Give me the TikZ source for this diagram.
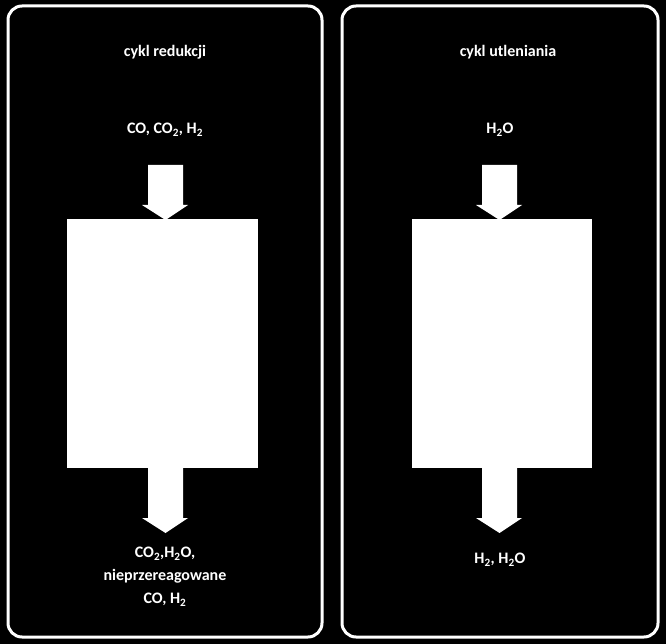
\documentclass[tikz,border=0pt]{standalone}
\usepackage{fontspec}
\setmainfont{Carlito}
\begin{document}
\begin{tikzpicture}[x=1pt,y=-1pt,
  panel/.style={draw=white,line width=3pt,rounded corners=14pt},
  txt/.style={text=white,font=\bfseries\fontsize{16}{20}\selectfont,align=center,inner sep=0pt},
  blk/.style={fill=white}]
\fill[black] (0,0) rectangle (666,644);
\useasboundingbox (0,0) rectangle (666,644);
\draw[panel] (8,6) rectangle (322,637);
\draw[panel] (342,6) rectangle (658,637);
% left
\node[txt] (t1) at (165,52) {cykl redukcji};
\node[txt] (in1) at (165,130) {CO, CO\textsubscript{2}, H\textsubscript{2}};
\fill[blk] (148,165) -- (183,165) -- (183,205) -- (188,205) -- (165.5,220) -- (142,205) -- (148,205) -- cycle;
\fill[blk] (67,219) rectangle (258,468);
\fill[blk] (148,467) -- (183,467) -- (183,518) -- (188,518) -- (165.5,533) -- (142,518) -- (148,518) -- cycle;
\node[txt] (out1) at (165,577) {CO\textsubscript{2},H\textsubscript{2}O,\\[3pt]nieprzereagowane\\[3pt]CO, H\textsubscript{2}};
% right
\node[txt] (t2) at (508,52) {cykl utleniania};
\node[txt] (in2) at (500,130) {H\textsubscript{2}O};
\fill[blk] (482,165) -- (517,165) -- (517,205) -- (522,205) -- (499.5,220) -- (476,205) -- (482,205) -- cycle;
\fill[blk] (412,219) rectangle (592,468);
\fill[blk] (482,467) -- (517,467) -- (517,518) -- (522,518) -- (499.5,533) -- (476,518) -- (482,518) -- cycle;
\node[txt] (out2) at (500,560) {H\textsubscript{2}, H\textsubscript{2}O};
\end{tikzpicture}
\end{document}
